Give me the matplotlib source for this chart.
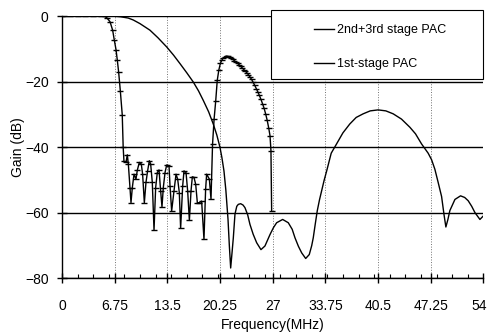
import matplotlib
matplotlib.use("Agg")
import matplotlib.pyplot as plt
from matplotlib.patches import Rectangle
from matplotlib.ticker import MultipleLocator
from matplotlib.transforms import ScaledTranslation

plt.rcParams["font.family"] = ["Liberation Sans", "DejaVu Sans"]

# ------------------------------------------------------------
# Daten
# ------------------------------------------------------------

x_ticks = [0, 6.75, 13.5, 20.25, 27, 33.75, 40.5, 47.25, 54]
x_tick_labels = ["0", "6.75", "13.5", "20.25", "27", "33.75", "40.5", "47.25", "54"]
y_ticks = [0, -20, -40, -60, -80]

# 2nd+3rd stage PAC (glatte Kurve)
pac23_freq = [
    0.0, 3.0, 6.0, 6.75, 7.5, 8.5, 9.15, 10.0, 11.28, 12.3, 13.42, 14.3,
    15.13, 16.0, 16.83, 17.5, 18.11, 18.8, 19.39, 19.85, 20.25, 20.5, 20.76,
    21.0, 21.28, 21.45, 21.62, 21.8, 21.96, 22.17, 22.4, 22.6, 22.9, 23.2,
    23.45, 23.8, 24.09, 24.5, 24.95, 25.5, 26.01, 26.66, 27.1, 27.51, 28.28,
    29.0, 29.5, 29.86, 30.3, 30.72, 31.23, 31.69, 32.0, 32.2, 32.45, 32.71,
    33.0, 33.27, 33.6, 33.92, 34.5, 35.18, 36.0, 36.88, 37.7, 38.59, 39.5,
    40.51, 41.5, 42.44, 43.5, 44.58, 45.3, 46.08, 46.92, 47.36, 47.78, 48.2,
    48.64, 48.95, 49.19, 49.45, 49.7, 50.35, 51.07, 51.6, 52.05, 52.5, 52.91,
    53.55, 54.0,
]
pac23_gain = [
    0.0, 0.0, 0.0, -0.05, -0.2, -0.6, -1.2, -2.3, -4.3, -6.6, -9.4, -11.9,
    -14.5, -17.3, -20.1, -22.8, -25.7, -29.2, -32.9, -36.3, -40.0, -43.2, -47.2,
    -53.0, -62.0, -70.0, -76.8, -72.0, -67.6, -60.4, -58.0, -57.4, -57.2, -57.6,
    -58.4, -60.6, -63.5, -66.5, -69.1, -71.2, -70.1, -66.6, -64.5, -63.0, -62.0,
    -63.0, -65.0, -67.6, -70.2, -72.2, -73.9, -72.7, -70.0, -67.6, -63.5, -59.4,
    -56.0, -53.3, -50.0, -47.2, -41.8, -39.0, -35.6, -32.9, -30.9, -29.8, -28.9,
    -28.6, -28.9, -29.8, -31.4, -33.9, -35.9, -39.0, -41.8, -43.8, -46.7, -50.7,
    -55.0, -60.5, -64.3, -62.0, -59.3, -55.9, -54.8, -55.3, -56.3, -58.0, -59.9,
    -62.0, -60.9,
]

# 1st-stage PAC (mit Markern)
pac1_freq = [
    0.0, 1.0, 2.0, 3.0, 4.0, 5.0, 5.5, 5.74, 6.16, 6.5, 6.71, 6.93, 7.1, 7.27,
    7.48, 7.73, 7.85, 7.95, 8.21, 8.38, 8.51, 8.72, 8.85, 9.02, 9.24, 9.49,
    9.66, 9.92, 10.17, 10.34, 10.56, 10.77, 10.98, 11.20, 11.37, 11.58, 11.80,
    12.01, 12.22, 12.44, 12.65, 12.82, 12.99, 13.21, 13.42, 13.72, 13.85, 14.06,
    14.36, 14.62, 14.83, 15.04, 15.21, 15.47, 15.64, 15.90, 16.11, 16.33, 16.54,
    16.71, 16.92, 17.14, 17.35, 17.60, 17.90, 18.20, 18.41, 18.54, 18.89, 19.10,
    19.30, 19.50, 19.70, 19.90, 20.10, 20.30, 20.50, 20.70, 20.90, 21.10, 21.30,
    21.50, 21.70, 21.90, 22.10, 22.30, 22.50, 22.70, 22.90, 23.10, 23.30, 23.50,
    23.70, 23.90, 24.10, 24.30, 24.50, 24.70, 24.90, 25.10, 25.30, 25.50, 25.70,
    25.90, 26.10, 26.30, 26.50, 26.66, 26.78, 26.87,
]
pac1_gain = [
    0.0, 0.0, 0.0, 0.0, 0.0, 0.0, -0.1, -0.5, -1.7, -4.3, -7.3, -10.2, -13.5,
    -17.1, -22.7, -30.1, -40.0, -44.3, -44.6, -42.3, -45.1, -52.3, -56.9, -52.3,
    -48.2, -49.7, -47.0, -44.6, -45.1, -48.2, -56.9, -50.7, -47.2, -44.1, -45.1,
    -50.7, -65.3, -52.3, -47.7, -46.9, -53.3, -58.2, -52.3, -47.7, -45.4, -45.6,
    -51.8, -59.4, -53.3, -48.2, -49.7, -53.8, -64.7, -51.8, -47.2, -47.7, -53.3,
    -62.3, -53.3, -49.0, -49.2, -51.3, -56.9, -56.9, -56.4, -68.1, -52.8, -48.2,
    -49.7, -55.8, -39.0, -31.3, -26.0, -19.6, -16.5, -14.4, -13.4, -12.7, -12.35,
    -12.2, -12.3, -12.5, -12.8, -13.2, -13.6, -14.0, -14.4, -14.8, -15.3, -15.8,
    -16.3, -16.8, -17.3, -17.9, -18.6, -19.3, -20.2, -21.1, -22.1, -23.1, -24.2,
    -25.4, -26.7, -28.1, -29.8, -31.8, -34.2, -36.5, -41.0, -59.5,
]

labels = ["2nd+3rd stage PAC", "1st-stage PAC"]

# ------------------------------------------------------------
# Plot
# ------------------------------------------------------------

fig = plt.figure(figsize=(4.89, 3.33), dpi=100)
ax = fig.add_axes([0.1266, 0.1637, 0.862, 0.788])

line23, = ax.plot(pac23_freq, pac23_gain, color="black", lw=1.0, zorder=3)
line1, = ax.plot(pac1_freq, pac1_gain, color="black", lw=1.0,
                 marker="_", markersize=4, markeredgewidth=1.0, zorder=3)

ax.set_xlim(0, 54)
ax.set_ylim(-80, 0)
ax.set_xticks(x_ticks)
ax.set_xticklabels(x_tick_labels)
ax.set_yticks(y_ticks)
ax.xaxis.set_minor_locator(MultipleLocator(2))

ax.set_axisbelow(True)
ax.yaxis.grid(True, color="black", lw=1.0, ls="-")
ax.xaxis.grid(True, color="0.45", lw=0.7, ls=":")

for side in ("top", "right"):
    ax.spines[side].set_visible(False)
ax.spines["left"].set_linewidth(1.0)
ax.spines["bottom"].set_linewidth(1.0)

ax.tick_params(axis="x", which="major", direction="inout", length=7,
               width=1.0, pad=11, labelsize=10)
ax.tick_params(axis="x", which="minor", direction="in", length=3, width=0.8)
ax.tick_params(axis="y", which="major", direction="inout", length=7,
               width=1.0, pad=6, labelsize=10)

# letztes Label "54" etwas nach links, damit es nicht abgeschnitten wird
last = ax.get_xticklabels()[-1]
last.set_transform(last.get_transform()
                   + ScaledTranslation(-3 / 72, 0, fig.dpi_scale_trans))

ax.set_xlabel("Frequency(MHz)", fontsize=10, labelpad=4)
ax.set_ylabel("Gain (dB)", fontsize=10, labelpad=0)

# Legendenkasten oben rechts
box = Rectangle((0.496, 0.762), 0.504, 0.262, transform=ax.transAxes,
                facecolor="white", edgecolor="black", lw=0.8,
                clip_on=False, zorder=5)
ax.add_patch(box)

leg = ax.legend([line23, line1], labels, loc="center",
                bbox_to_anchor=(0.754, 0.882), bbox_transform=ax.transAxes,
                frameon=False, fontsize=9, labelspacing=1.75,
                handlelength=1.6, handletextpad=0.25)
for h in leg.legend_handles:
    h.set_marker("")
leg.set_zorder(6)

fig.savefig("out.png", dpi=100)
